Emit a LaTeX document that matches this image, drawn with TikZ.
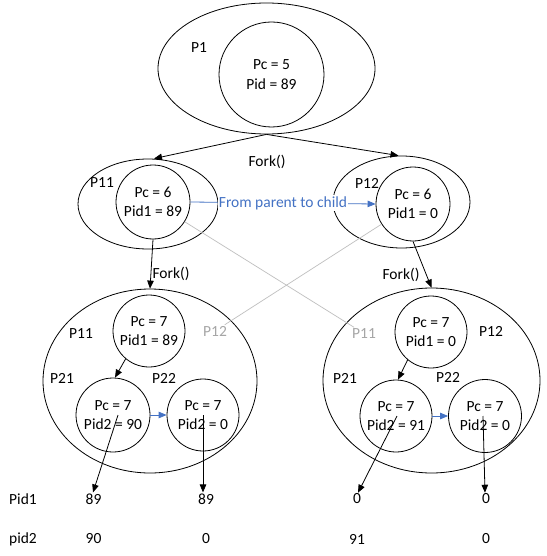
\documentclass[tikz,border=0pt]{standalone}
\usepackage{fontspec}
\setmainfont{Carlito}
\usetikzlibrary{shapes.geometric,arrows.meta}
\definecolor{ablue}{HTML}{4472C4}
\definecolor{lgray}{HTML}{BFBFBF}
\definecolor{tgray}{HTML}{A6A6A6}
\begin{document}
\begin{tikzpicture}[x=1pt,y=-1pt,
  every node/.style={font=\fontsize{15.5}{19.5}\selectfont},
  proc/.style={draw,line width=0.8pt,ellipse,inner sep=0pt},
  var/.style={draw,line width=0.8pt,circle,inner sep=0pt,align=center},
  lbl/.style={inner sep=1pt},
  glbl/.style={inner sep=1pt,text=tgray},
  arr/.style={draw,line width=0.8pt,-{Triangle[length=8pt,width=6.5pt]}},
  barr/.style={draw=ablue,line width=0.8pt,-{Triangle[length=8pt,width=6.5pt]}},
  gline/.style={draw=lgray,line width=0.7pt}]
\useasboundingbox[fill=white] (0,0) rectangle (546,556);

% top process
\node[proc, minimum width=217pt, minimum height=131pt] (p1e) at (266.5,68.5) {};
\node[var, minimum size=105pt] (p1c) at (271.5,74.5) {Pc = 5\\Pid = 89};
\node[lbl] (p1l) at (199,48) {P1};

% second level
\node[proc, minimum width=140pt, minimum height=90pt] (p11e) at (148,204) {};
\node[var, minimum size=74pt] (p11c) at (153,202) {Pc = 6\\Pid1 = 89};
\node[lbl] (p11l) at (102,183) {P11};

\node[proc, minimum width=137pt, minimum height=92pt] (p12e) at (401.5,202) {};
\node[var, minimum size=74pt] (p12c) at (413,204) {Pc = 6\\Pid1 = 0};
\node[lbl] (p12l) at (367,183) {P12};

\node[lbl] (fork1) at (267,161.5) {Fork()};
\draw[arr] (p1e.south) -- ([xshift=6pt]p11e.north);
\draw[arr] (p1e.south) -- ([xshift=-3pt]p12e.north);
\draw[barr] (p11c.east) -- node[fill=white,inner sep=1pt,text=ablue] (ftext) {From parent to child} (p12c.west);

% bottom-left
\node[proc, minimum width=214pt, minimum height=184pt] (ble) at (150,381) {};
\node[var, minimum size=72pt] (blc) at (149,331) {Pc = 7\\Pid1 = 89};
\node[var, minimum size=74pt] (bl21) at (113,415) {Pc = 7\\Pid2 = 90};
\node[var, minimum size=72pt] (bl22) at (203,415) {Pc = 7\\Pid2 = 0};
\node[lbl] (bl11l) at (81,333.5) {P11};
\node[glbl] (bl12g) at (215,331) {P12};
\node[lbl] (bl21l) at (62,378) {P21};
\node[lbl] (bl22l) at (164,378) {P22};
\node[lbl] (fork2) at (171,274) {Fork()};

% bottom-right
\node[proc, minimum width=217pt, minimum height=185pt] (bre) at (431.5,380.5) {};
\node[var, minimum size=72pt] (brc) at (431,332) {Pc = 7\\Pid1 = 0};
\node[var, minimum size=72pt] (br21) at (396,416) {Pc = 7\\Pid2 = 91};
\node[var, minimum size=73pt] (br22) at (485,416) {Pc = 7\\Pid2 = 0};
\node[glbl] (br11g) at (364,333.5) {P11};
\node[lbl] (br12l) at (491,331.5) {P12};
\node[lbl] (br21l) at (345,378.5) {P21};
\node[lbl] (br22l) at (448,377.5) {P22};
\node[lbl] (fork3) at (401,274.5) {Fork()};

% gray cross lines
\draw[gline] (p11c) -- (br11g);
\draw[gline] (p12c) -- (bl12g);

% fork arrows
\draw[arr] (p11c.south) -- (ble.north);
\draw[arr] (p12c.south) -- (bre.north);
\draw[arr] (blc.230) -- ([xshift=2pt]bl21.north);
\draw[arr] (brc.230) -- ([xshift=2pt]br21.north);
\draw[barr] (bl21.east) -- (bl22.west);
\draw[barr] (br21.east) -- (br22.west);

% bottom table
\node[lbl] (r1) at (23,499) {Pid1};
\node[lbl] (a1) at (93.5,499) {89};
\node[lbl] (a2) at (206,499) {89};
\node[lbl] (a3) at (357,499) {0};
\node[lbl] (a4) at (486,499) {0};
\node[lbl] (r2) at (23,539) {pid2};
\node[lbl] (b1) at (93.5,539) {90};
\node[lbl] (b2) at (206,539) {0};
\node[lbl] (b3) at (357,539) {91};
\node[lbl] (b4) at (486,539) {0};

\draw[arr] ([xshift=5pt]bl21.center) -- ([xshift=-0.5pt]a1.north);
\draw[arr] (bl22.center) -- ([xshift=-3pt]a2.north);
\draw[arr] ([xshift=1pt]br21.center) -- ([xshift=1pt]a3.north);
\draw[arr] ([xshift=-2pt]br22.center) -- ([xshift=-1pt]a4.north);
\end{tikzpicture}
\end{document}
